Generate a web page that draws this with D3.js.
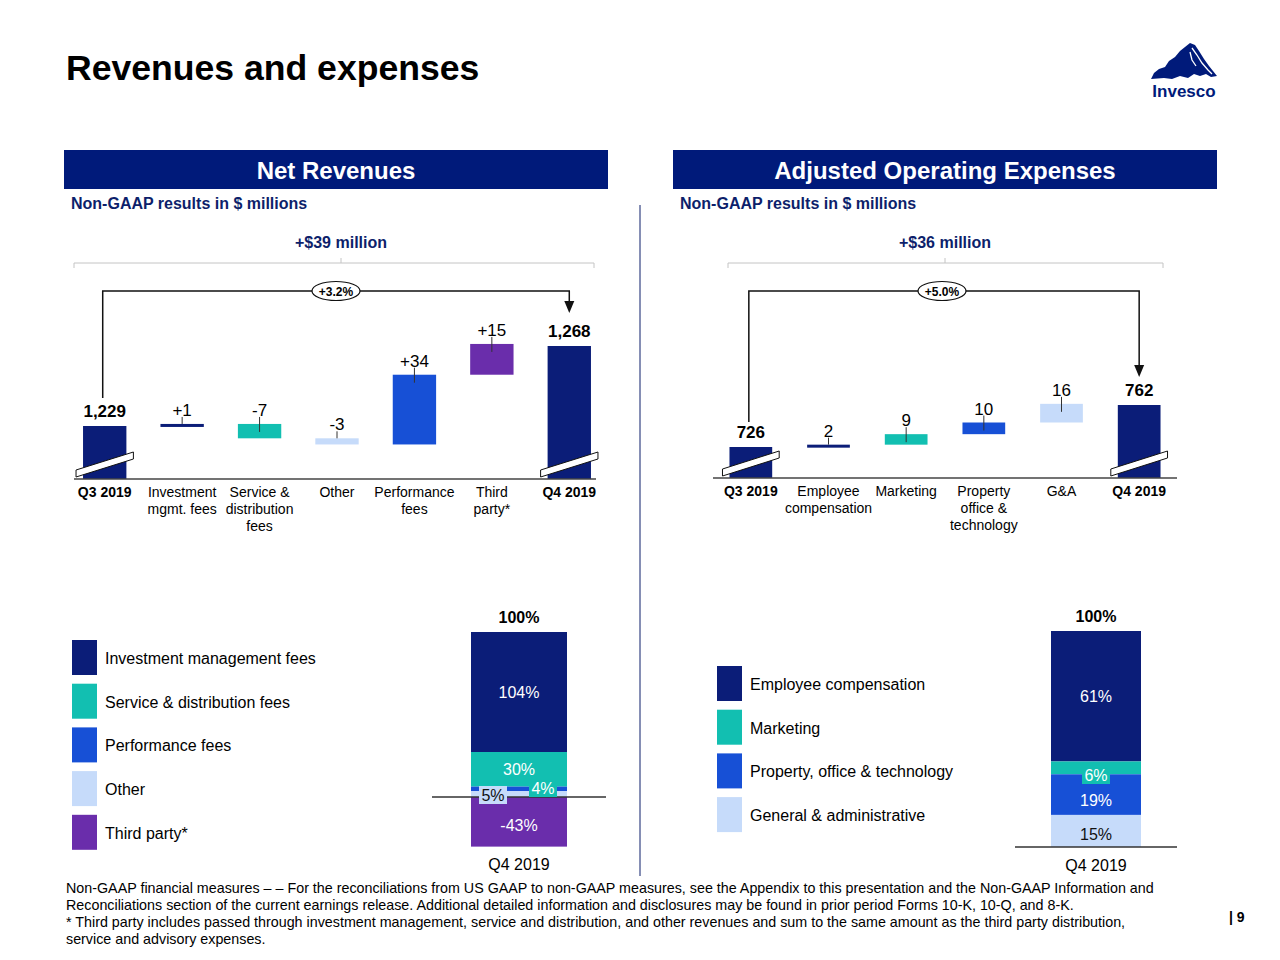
<!DOCTYPE html>
<html><head><meta charset="utf-8">
<script src="https://cdn.jsdelivr.net/npm/d3@7/dist/d3.min.js"></script>
<style>
html,body{margin:0;padding:0;background:#fff;}
svg{display:block;font-family:"Liberation Sans",Arial,Helvetica,sans-serif;}
</style></head>
<body><svg id="c" width="1280" height="960"></svg>
<script>
// ---------- DATA ----------
const revCategories = ["Q3 2019","Investment|mgmt. fees","Service &|distribution|fees","Other","Performance|fees","Third|party*","Q4 2019"];
const revValues = [1229, 1, -7, -3, 34, 15, 1268];
const revLabels = ["1,229","+1","-7","-3","+34","+15","1,268"];
const revTypes = ["total","delta","delta","delta","delta","delta","total"];
const revColors = ["navy","navy","teal","light","blue","purple","navy"];

const expCategories = ["Q3 2019","Employee|compensation","Marketing","Property|office &|technology","G&A","Q4 2019"];
const expValues = [726, 2, 9, 10, 16, 762];
const expLabels = ["726","2","9","10","16","762"];
const expTypes = ["total","delta","delta","delta","delta","total"];
const expColors = ["navy","navy","teal","blue","light","navy"];

const revMixNames = ["Investment management fees","Service & distribution fees","Performance fees","Other","Third party*"];
const revMixValues = [104, 30, 4, 5, -43];
const revMixColors = ["navy","teal","blue","light","purple"];

const expMixNames = ["Employee compensation","Marketing","Property, office & technology","General & administrative"];
const expMixValues = [61, 6, 19, 15];
const expMixColors = ["navy","teal","blue","light"];

const revChange = "+$39 million", revPct = "+3.2%";
const expChange = "+$36 million", expPct = "+5.0%";

const footnotes = [
 "Non-GAAP financial measures \u2013 \u2013 For the reconciliations from US GAAP to non-GAAP measures, see the Appendix to this presentation and the Non-GAAP Information and",
 "Reconciliations section of the current earnings release.  Additional detailed information and disclosures may be found in prior period Forms 10-K, 10-Q, and 8-K.",
 "*  Third party includes passed through investment management, service and distribution, and other revenues and sum to the same amount as the third party distribution,",
 "service and advisory expenses."
];

// ---------- STYLE ----------
const C = {navy:"#0b1d78", teal:"#12bfb1", blue:"#1750d6", light:"#c6dbfa", purple:"#6a2dab"};
const headNavy = "#001a7a";
const textNavy = "#0d1f6b";

const svg = d3.select("#c");

// Title
svg.append("text").attr("x",66).attr("y",80).attr("font-size",35.6).attr("font-weight","bold")
  .attr("fill","#000").text("Revenues and expenses");

// Logo
const logo = svg.append("g");
logo.append("path").attr("fill",headNavy)
  .attr("d","M1151,79 L1154,73 L1159,69 L1165,67 L1169,61 L1175,57 L1180,51 L1185,47 L1190,43 L1195,45 L1199,51 L1204,59 L1209,66 L1213,71 L1217,76 L1211,77 L1206,74 L1200,76 L1194,74 L1188,78 L1180,76 L1172,79 L1164,78 Z");
logo.append("path").attr("fill","none").attr("stroke","#fff").attr("stroke-width",1.3)
  .attr("d","M1192,48 L1197,55 L1202,63 L1208,70 L1212,74 M1190,52 L1192,60 L1196,66");
logo.append("text").attr("x",1184).attr("y",97).attr("text-anchor","middle").attr("font-size",17)
  .attr("font-weight","bold").attr("fill",headNavy).text("Invesco");

// Panel headers
function header(x0, x1, title, sub){
  svg.append("rect").attr("x",x0).attr("y",150).attr("width",x1-x0).attr("height",39).attr("fill",headNavy);
  svg.append("text").attr("x",(x0+x1)/2).attr("y",179).attr("text-anchor","middle").attr("font-size",24)
    .attr("font-weight","bold").attr("fill","#fff").text(title);
  svg.append("text").attr("x",x0+7).attr("y",209).attr("font-size",16).attr("font-weight","bold")
    .attr("fill",textNavy).text(sub);
}
header(64,608,"Net Revenues","Non-GAAP results in $ millions");
header(673,1217,"Adjusted Operating Expenses","Non-GAAP results in $ millions");

// divider
svg.append("line").attr("x1",640).attr("x2",640).attr("y1",205).attr("y2",876).attr("stroke",textNavy).attr("stroke-width",1);

// change brackets
function changeBracket(x0,x1,xm,label){
  svg.append("text").attr("x",xm).attr("y",248).attr("text-anchor","middle").attr("font-size",16)
    .attr("font-weight","bold").attr("fill",textNavy).text(label);
  svg.append("path").attr("fill","none").attr("stroke","#c4c4c4").attr("stroke-width",1)
    .attr("d",`M${x0},268 L${x0},263 L${x1},263 L${x1},268 M${xm},263 L${xm},258`);
}
changeBracket(74,594,341,revChange);
changeBracket(728,1163,945,expChange);

// ---------- WATERFALL ----------
function waterfall(opt){
  const {cats, vals, labels, types, colors, range, yDomain, yRange, axisY, axisX, pct, pctX, leftStop, arrowTip} = opt;
  const x = d3.scaleBand().domain(cats).range(range).paddingInner(opt.pin).paddingOuter(opt.pin/2);
  const y = d3.scaleLinear().domain(yDomain).range(yRange);
  const g = svg.append("g");
  let run = 0; const bars = [];
  vals.forEach((v,i)=>{
    if(types[i]==="total"){ run = v; bars.push({i, y0:axisY, y1:y(v), top:y(v)}); }
    else { const a = run, b = run+v; run = b;
      bars.push({i, y0:y(a), y1:y(b), top:Math.min(y(a),y(b))}); }
  });
  bars.forEach(b=>{
    const cx = x(cats[b.i]);
    const h = Math.max(Math.abs(b.y0-b.y1), 3);
    g.append("rect").attr("x",cx).attr("y",Math.min(b.y0,b.y1)).attr("width",x.bandwidth()).attr("height",h)
      .attr("fill",C[colors[b.i]]);
    const mid = cx + x.bandwidth()/2;
    const isTotal = types[b.i]==="total";
    const ly = b.top - (isTotal ? 9 : 8);
    g.append("text").attr("x",mid).attr("y",ly).attr("text-anchor","middle").attr("font-size",17)
      .attr("font-weight",isTotal?"bold":"normal").attr("fill","#000").text(labels[b.i]);
    if(!isTotal){
      g.append("line").attr("x1",mid).attr("x2",mid).attr("y1",ly+1).attr("y2",b.top+(h>8?8:0))
        .attr("stroke","#333").attr("stroke-width",1);
    }
    if(isTotal){
      // break mark
      const bx0 = cx-7, bx1 = cx+x.bandwidth()+7;
      g.append("path").attr("fill","#fff").attr("stroke","#111").attr("stroke-width",1)
        .attr("d",`M${bx0},${axisY-9} L${bx1},${axisY-27} L${bx1},${axisY-20} L${bx0},${axisY-2} Z`);
    }
    const lines = cats[b.i].split("|");
    lines.forEach((t,k)=>{
      g.append("text").attr("x",mid).attr("y",axisY+18+k*17).attr("text-anchor","middle").attr("font-size",14)
        .attr("font-weight",isTotal?"bold":"normal").attr("fill","#000").text(t);
    });
  });
  g.append("line").attr("x1",axisX[0]).attr("x2",axisX[1]).attr("y1",axisY).attr("y2",axisY)
    .attr("stroke","#444").attr("stroke-width",1.5);
  const xa = x(cats[0]) + x.bandwidth()/2, xb = x(cats[cats.length-1]) + x.bandwidth()/2;
  g.append("path").attr("fill","none").attr("stroke","#111").attr("stroke-width",1.5)
    .attr("d",`M${xa-2},${leftStop} L${xa-2},291 L${xb},291 L${xb},${arrowTip-10}`);
  g.append("path").attr("fill","#111").attr("d",`M${xb-5},${arrowTip-12} L${xb+5},${arrowTip-12} L${xb},${arrowTip} Z`);
  g.append("ellipse").attr("cx",pctX).attr("cy",291).attr("rx",24).attr("ry",9.5).attr("fill","#fff")
    .attr("stroke","#111").attr("stroke-width",1.2);
  g.append("text").attr("x",pctX).attr("y",296).attr("text-anchor","middle").attr("font-size",12)
    .attr("font-weight","bold").attr("fill","#000").text(pct);
}

waterfall({cats:revCategories, vals:revValues, labels:revLabels, types:revTypes, colors:revColors,
  range:[66,608], pin:0.44, yDomain:[1229,1268], yRange:[426,346], axisY:479, axisX:[74,596],
  pct:revPct, pctX:336, leftStop:398, arrowTip:313});
waterfall({cats:expCategories, vals:expValues, labels:expLabels, types:expTypes, colors:expColors,
  range:[712,1178], pin:0.45, yDomain:[726,762], yRange:[447,405], axisY:478, axisX:[713,1177],
  pct:expPct, pctX:942, leftStop:422, arrowTip:377});

// ---------- LEGENDS ----------
function legend(names, colors, x, y0, step){
  names.forEach((n,i)=>{
    svg.append("rect").attr("x",x).attr("y",y0+i*step).attr("width",25).attr("height",35).attr("fill",C[colors[i]]);
    svg.append("text").attr("x",x+33).attr("y",y0+i*step+24).attr("font-size",16).attr("fill","#000").text(n);
  });
}
legend(revMixNames, revMixColors, 72, 640, 43.7);
legend(expMixNames, expMixColors, 717, 666, 43.7);

// ---------- STACKED MIX BARS ----------
function mixBar(opt){
  const {vals, colors, xCenter, width, yScale, zeroX, labelSpec} = opt;
  const g = svg.append("g");
  let pos = 0, neg = 0; const segs = [];
  for(let i=vals.length-1;i>=0;i--){
    const v = vals[i];
    if(v>=0){ segs[i] = {a:pos, b:pos+v}; pos += v; }
    else { segs[i] = {a:neg, b:neg+v}; neg += v; }
  }
  const x0 = xCenter - width/2;
  segs.forEach((s,i)=>{
    const ya = yScale(s.a), yb = yScale(s.b);
    g.append("rect").attr("x",x0).attr("y",Math.min(ya,yb)).attr("width",width).attr("height",Math.abs(ya-yb))
      .attr("fill",C[colors[i]]);
  });
  g.append("line").attr("x1",zeroX[0]).attr("x2",zeroX[1]).attr("y1",yScale(0)).attr("y2",yScale(0))
    .attr("stroke","#333").attr("stroke-width",1.5);
  segs.forEach((s,i)=>{
    const sp = labelSpec[i];
    const cy = sp.y !== undefined ? sp.y : (yScale(s.a)+yScale(s.b))/2 + 6;
    const cx = xCenter + (sp.dx||0);
    const t = (vals[i]) + "%";
    if(sp.box){
      g.append("rect").attr("x",cx-14).attr("y",cy-15).attr("width",28).attr("height",18).attr("fill",C[sp.box]);
    }
    g.append("text").attr("x",cx).attr("y",cy).attr("text-anchor","middle").attr("font-size",16)
      .attr("fill",sp.dark?"#111":"#fff").text(t);
  });
  g.append("text").attr("x",xCenter).attr("y",yScale(pos)-9).attr("text-anchor","middle").attr("font-size",16)
    .attr("font-weight","bold").attr("fill","#000").text("100%");
  g.append("text").attr("x",xCenter).attr("y",opt.catY).attr("text-anchor","middle").attr("font-size",16)
    .attr("fill","#000").text("Q4 2019");
}

mixBar({vals:revMixValues, colors:revMixColors, xCenter:519, width:96,
  yScale:d3.scaleLinear().domain([0,143]).range([797,632]), zeroX:[432,606], catY:870,
  labelSpec:[{}, {y:775}, {dx:24,y:794,box:"teal"}, {dx:-26,y:801,box:"light",dark:true}, {y:831}]});
mixBar({vals:expMixValues, colors:expMixColors, xCenter:1096, width:90,
  yScale:d3.scaleLinear().domain([0,101]).range([847,631]), zeroX:[1015,1177], catY:871,
  labelSpec:[{}, {y:781,box:"teal"}, {y:806}, {y:840,dark:true}]});

// ---------- FOOTNOTES ----------
footnotes.forEach((t,i)=>{
  svg.append("text").attr("x",66).attr("y",893+i*17).attr("font-size",14.3).attr("fill","#000").text(t);
});
svg.append("text").attr("x",1229).attr("y",922).attr("font-size",14).attr("font-weight","bold").attr("fill","#000").text("| 9");
</script></body></html>
